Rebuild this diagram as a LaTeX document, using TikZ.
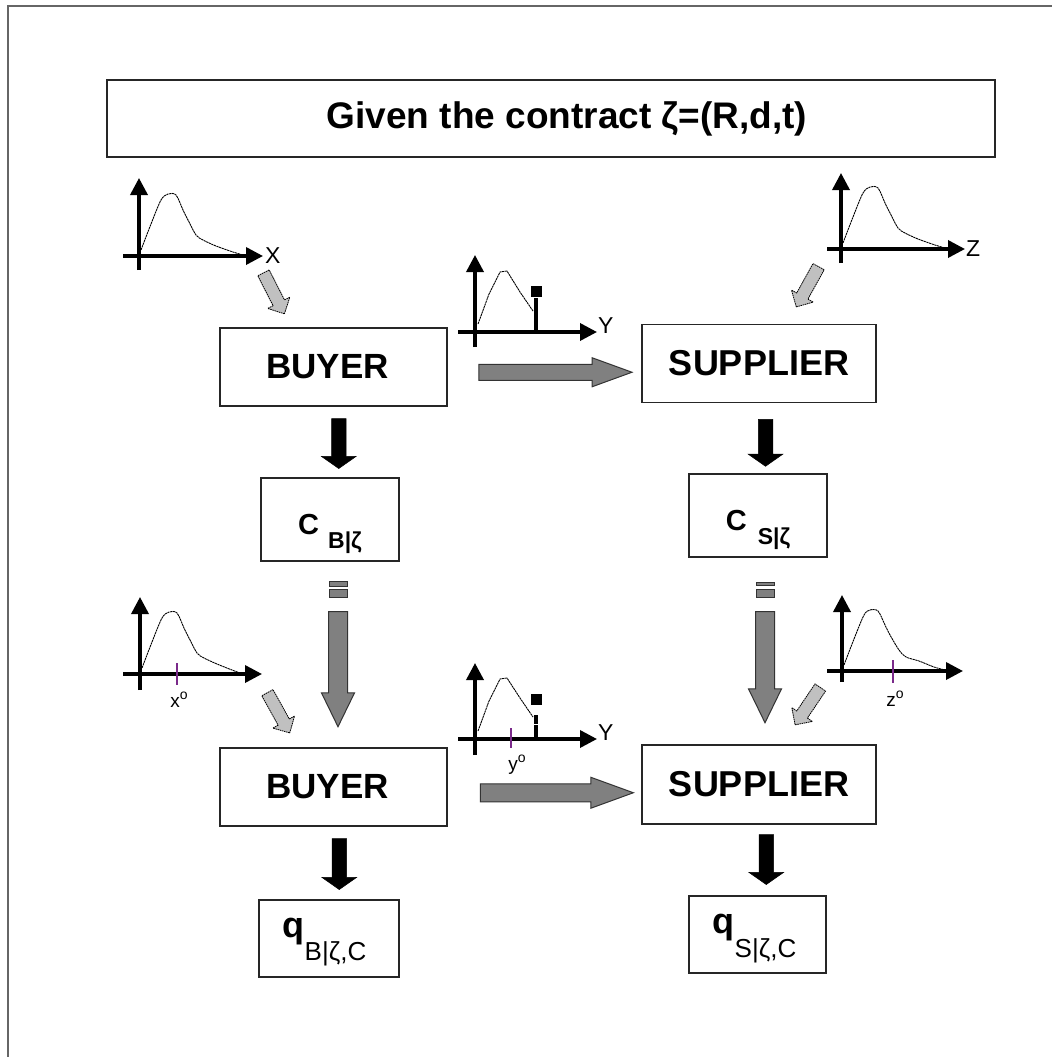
\documentclass[tikz,border=0pt]{standalone}
\usepackage{fontspec}
\setmainfont{Liberation Sans}
\usetikzlibrary{arrows.meta,shapes.arrows,calc}
\definecolor{tickc}{HTML}{7A2A8A}
\definecolor{darkg}{HTML}{808080}
\definecolor{lightg}{HTML}{C0C0C0}
\begin{document}
\begin{tikzpicture}[x=1pt,y=-1pt,
  box/.style={draw=black!85, line width=1.6pt, inner sep=0pt, align=center},
  bigtxt/.style={font=\fontsize{35}{35}\selectfont\bfseries},
  axis/.style={line width=3.5pt, -{Triangle[length=17pt,width=17pt]}},
  curve/.style={line width=0.9pt, dash pattern=on 2.2pt off 0.6pt},
  blackarr/.style={single arrow, fill=black, draw=black, line width=0.5pt, inner xsep=0pt, inner ysep=7pt,
      minimum width=0pt, single arrow head extend=10pt, single arrow tip angle=110},
  grayv/.style={single arrow, fill=darkg, draw=black!80, line width=1pt, inner xsep=0pt, inner ysep=9pt,
      minimum width=0pt, single arrow head extend=7pt, single arrow tip angle=52},
  grayh/.style={single arrow, fill=darkg, draw=black!80, line width=1pt, inner xsep=0pt, inner ysep=8pt,
      minimum width=0pt, single arrow head extend=6.5pt, single arrow tip angle=40},
  smallarr/.style={single arrow, fill=lightg, draw=black, line width=0.8pt, dash pattern=on 1.5pt off 0.7pt,
      inner xsep=0pt, inner ysep=6pt, minimum width=0pt, single arrow head extend=6pt, single arrow tip angle=90},
  stripe/.style={fill=darkg, draw=black!80, line width=1pt},
  ticklab/.style={font=\fontsize{19}{19}\selectfont},
  axlab/.style={font=\fontsize{23}{23}\selectfont, anchor=west, inner sep=0pt},
  tickline/.style={draw=tickc, line width=1.6pt}
]
\useasboundingbox (0,0) rectangle (1052,1057);
% frame
\draw[black!60, line width=1.2pt] (8,1057) -- (8,6) -- (1052,6);

% title
\node[box, minimum width=888pt, minimum height=77pt] (title) at (551,118.5)
  {\fontsize{37}{37}\selectfont\bfseries\hspace*{32pt}Given the contract ζ=(R,d,t)};

% boxes
\node[box, bigtxt, minimum width=227pt, minimum height=78pt] (b1) at (333.5,367) {BUYER\hspace*{12pt}};
\node[box, bigtxt, font=\fontsize{36}{36}\selectfont\bfseries, minimum width=234pt, minimum height=78pt] (s1) at (759,363.5) {SUPPLIER};
\node[box, minimum width=138pt, minimum height=83pt, text height=29pt, text depth=0pt] (cb) at (330,519.5)
  {{\fontsize{29}{29}\selectfont\bfseries C}\hspace{9pt}\raisebox{-14pt}{\fontsize{23}{23}\selectfont\bfseries B|ζ}};
\node[box, minimum width=138pt, minimum height=83pt, text height=29pt, text depth=0pt] (cs) at (758,515.5)
  {{\fontsize{29}{29}\selectfont\bfseries C}\hspace{11pt}\raisebox{-14pt}{\fontsize{23}{23}\selectfont\bfseries S|ζ}};
\node[box, bigtxt, minimum width=227pt, minimum height=78pt] (b2) at (333.5,787) {BUYER\hspace*{12pt}};
\node[box, bigtxt, font=\fontsize{36}{36}\selectfont\bfseries, minimum width=234pt, minimum height=79pt] (s2) at (759,784.5) {SUPPLIER};
\node[box, minimum width=140pt, minimum height=77pt, text height=0pt, text depth=2pt] (qb) at (329,938.5)
  {{\fontsize{36}{36}\selectfont\bfseries q}\raisebox{-23pt}{\fontsize{26}{26}\selectfont B|ζ,C}\hspace*{9pt}};
\node[box, minimum width=137pt, minimum height=77pt, text height=0pt, text depth=2pt] (qs) at (757.5,934.5)
  {{\fontsize{36}{36}\selectfont\bfseries q}\raisebox{-24pt}{\fontsize{26}{26}\selectfont S|ζ,C}\hspace*{6pt}};

% black arrows
\node[blackarr, rotate=-90, minimum height=50pt] (a1) at ($(b1.south)!0.5!(cb.north)+(7,-1)$) {};
\node[blackarr, rotate=-90, minimum height=47pt] (a2) at ($(s1.south)!0.5!(cs.north)+(7,2)$) {};
\node[blackarr, rotate=-90, minimum height=51pt] (a3) at ($(b2.south)!0.5!(qb.north)+(8,-1.5)$) {};
\node[blackarr, rotate=-90, minimum height=50pt] (a4) at ($(s2.south)!0.5!(qs.north)+(8,-3)$) {};

% gray vertical arrows (C -> second stage)
\node[grayv, rotate=-90, minimum height=115pt] (g1) at (338,659.5) {};
\draw[stripe] (329,581) rectangle (347,586);
\draw[stripe] (329,589) rectangle (347,597);
\node[grayv, rotate=-90, minimum height=111pt] (g2) at (765,657.5) {};
\draw[stripe] (756,582) rectangle (774,585);
\draw[stripe] (756,589) rectangle (774,597);

% gray horizontal arrows (buyer -> supplier)
\node[grayh, inner ysep=7.5pt, minimum height=153pt] (h1) at ($(b1.east)!0.5!(s1.west)+(0,7)$) {};
\node[grayh, inner ysep=8.5pt, minimum height=153pt] (h2) at ($(b2.east)!0.5!(s2.west)+(0,7)$) {};

% small light arrows
\node[smallarr, rotate=-63, minimum height=46pt] (d1) at (272.5,290.5) {};
\node[smallarr, rotate=-119, minimum height=46pt] (d2) at (809,284) {};
\node[smallarr, rotate=-61, minimum height=46pt] (d3) at (277,710) {};
\node[smallarr, rotate=-124, minimum height=45pt] (d4) at (809.5,703.5) {};

% graph X
\begin{scope}[shift={(139,256)}]
  \draw[axis] (0,14) -- (0,-78);
  \draw[axis] (-16,0) -- (124,0);
  \draw[curve] plot[smooth] coordinates {(2,-6) (12,-32) (22,-56) (29,-62) (37,-61) (44,-46) (49,-36) (57,-21) (64,-16) (77,-10) (94,-4) (104,-1)};
\end{scope}
\node[axlab] (lx) at (265,256) {X};

% graph Z
\begin{scope}[shift={(841,249)}]
  \draw[axis] (0,14) -- (0,-76);
  \draw[axis] (-14,0) -- (124,0);
  \draw[curve] plot[smooth] coordinates {(2,-6) (12,-32) (22,-56) (29,-62) (37,-61) (44,-46) (49,-36) (57,-21) (64,-16) (77,-10) (94,-4) (104,-1)};
\end{scope}
\node[axlab] (lz) at (966,249) {Z};

% graph Y (top)
\begin{scope}[shift={(475,332)}]
  \draw[axis] (0,15) -- (0,-77);
  \draw[axis] (-17,0) -- (122,0);
  \draw[curve] (3,-8) -- (14,-38) -- (25,-60) -- (32,-61) -- (45,-40) -- (58,-21);
  \draw[line width=4pt] (61,0) -- (61,-34);
  \fill (56,-46) rectangle (67,-35);
\end{scope}
\node[axlab] (ly1) at (598,326) {Y};

% graph x0
\begin{scope}[shift={(140,674)}]
  \draw[axis] (0,16) -- (0,-77);
  \draw[axis] (-17,0) -- (122,0);
  \draw[curve] plot[smooth] coordinates {(2,-6) (12,-32) (22,-56) (29,-62) (37,-61) (44,-46) (49,-36) (57,-21) (64,-16) (77,-10) (92,-4) (100,-1)};
  \draw[tickline] (37,-11) -- (37,11);
\end{scope}
\node[ticklab] (lx0) at (179,700) {x\raisebox{8pt}{\fontsize{14}{14}\selectfont o}};

% graph z0
\begin{scope}[shift={(842,671)}]
  \draw[axis] (0,11) -- (0,-76);
  \draw[axis] (-15,0) -- (121,0);
  \draw[curve] plot[smooth] coordinates {(2,-6) (12,-32) (22,-56) (28,-61) (36,-60) (43,-46) (48,-36) (57,-21) (64,-14) (77,-10) (92,-4) (103,-1)};
  \draw[tickline] (51,-11) -- (51,12);
\end{scope}
\node[ticklab] (lz0) at (895,699) {z\raisebox{8pt}{\fontsize{14}{14}\selectfont o}};

% graph Y (bottom)
\begin{scope}[shift={(475,739)}]
  \draw[axis] (0,16) -- (0,-76);
  \draw[axis] (-17,0) -- (122,0);
  \draw[curve] (3,-8) -- (14,-38) -- (25,-60) -- (32,-61) -- (45,-41) -- (58,-22);
  \draw[line width=4pt] (61,0) -- (61,-24);
  \draw[white, line width=1pt] (58,-15) -- (64,-15);
  \fill (56,-45) rectangle (67,-34);
  \draw[tickline] (36,-11) -- (36,9);
\end{scope}
\node[axlab] (ly2) at (598,733) {Y};
\node[ticklab] (ly0) at (517,765) {y\raisebox{8pt}{\fontsize{14}{14}\selectfont o}};
\end{tikzpicture}
\end{document}
